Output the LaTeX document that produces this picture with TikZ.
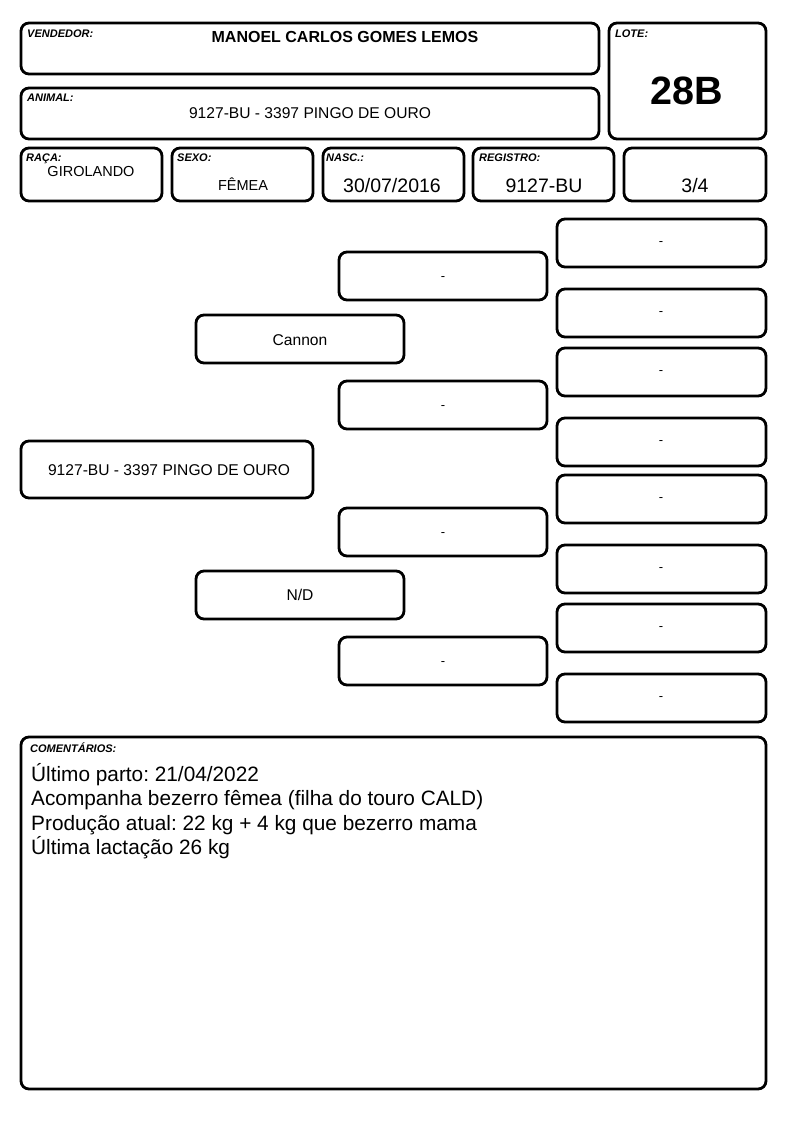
\documentclass[tikz,border=0pt]{standalone}
\usepackage{fontspec}
\setmainfont{Liberation Sans}
\frenchspacing
\begin{document}
\begin{tikzpicture}[x=1pt,y=-1pt,
  cell/.style={draw=black,line width=2.8pt,rounded corners=8pt},
  lbl/.style={anchor=north west,inner sep=0pt,font=\fontsize{11}{12}\selectfont\bfseries\itshape},
  val/.style={inner sep=0pt,font=\fontsize{15.6}{17}\selectfont},
  sml/.style={inner sep=0pt,font=\fontsize{14.5}{16}\selectfont},
  big/.style={inner sep=0pt,font=\fontsize{19.5}{21}\selectfont},
  dashtxt/.style={inner sep=0pt,font=\fontsize{13}{15}\selectfont}]
\useasboundingbox (0,0) rectangle (794,1123);
% header
\draw[cell] (21,23) rectangle (599,74);
\node[lbl] (lv) at (27,30) {VENDEDOR:};
\node[inner sep=0pt,font=\fontsize{16}{18}\selectfont\bfseries] (vend) at (345,37) {MANOEL CARLOS GOMES LEMOS};
\draw[cell] (21,88) rectangle (599,139);
\node[lbl] (la) at (27,94) {ANIMAL:};
\node[val] (anim) at (310,113) {9127-BU - 3397 PINGO DE OURO};
\draw[cell] (609,23) rectangle (766,139);
\node[lbl] (ll) at (615,30) {LOTE:};
\node[inner sep=0pt,font=\fontsize{39.5}{42}\selectfont\bfseries] (lote) at (687,91) {28B};
% row 3
\draw[cell] (21,148) rectangle (162,201);
\node[lbl] (lr) at (26,154) {RAÇA:};
\node[sml] (raca) at (91,172) {GIROLANDO};
\draw[cell] (172,148) rectangle (313,201);
\node[lbl] (ls) at (177,154) {SEXO:};
\node[sml] (sexo) at (243,184) {FÊMEA};
\draw[cell] (323,148) rectangle (464,201);
\node[lbl] (ln) at (326,154) {NASC.:};
\node[big] (nasc) at (392,186) {30/07/2016};
\draw[cell] (473,148) rectangle (614,201);
\node[lbl] (lreg) at (479,154) {REGISTRO:};
\node[big] (reg) at (544,186) {9127-BU};
\draw[cell] (624,148) rectangle (766,201);
\node[big] (grau) at (695,186) {3/4};
% pedigree
\draw[cell] (21,441) rectangle (313,498);
\node[val] (p1) at (169,470) {9127-BU - 3397 PINGO DE OURO};
\draw[cell] (196,315) rectangle (404,363);
\node[val] (p2) at (300,340) {Cannon};
\draw[cell] (196,571) rectangle (404,619);
\node[val] (p3) at (300,595) {N/D};
\foreach \ya/\yb [count=\i] in {252/300,381/429,508/556,637/685}{
  \draw[cell] (339,\ya) rectangle (547,\yb);
  \node[dashtxt] (g\i) at (443,{(\ya+\yb)/2+3}) {-};
}
\foreach \ya/\yb [count=\i] in {219/267,289/337,348/396,418/466,475/523,545/593,604/652,674/722}{
  \draw[cell] (557,\ya) rectangle (766,\yb);
  \node[dashtxt] (h\i) at (661,{(\ya+\yb)/2+1}) {-};
}
% comments
\draw[cell] (21,737) rectangle (766,1089);
\node[lbl] (lc) at (30,743) {COMENTÁRIOS:};
\node[anchor=north west,inner sep=0pt,align=left,font=\fontsize{20.8}{24.5}\selectfont] (com) at (31,763)
{Último parto: 21/04/2022\\Acompanha bezerro fêmea (filha do touro CALD)\\Produção atual: 22 kg + 4 kg que bezerro mama\\Última lactação 26 kg};
\end{tikzpicture}
\end{document}
